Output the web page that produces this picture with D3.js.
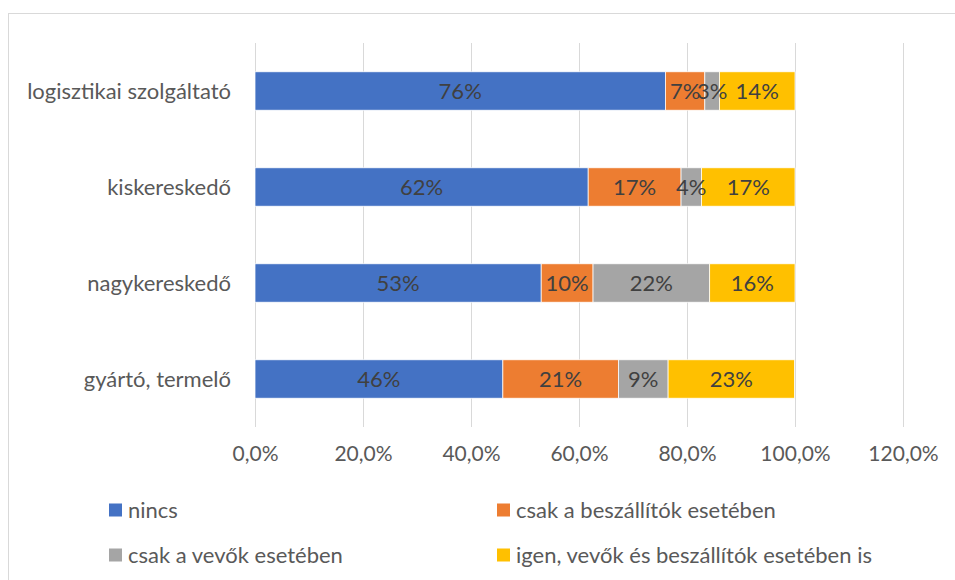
<!DOCTYPE html>
<html>
<head>
<meta charset="utf-8">
<script src="https://cdn.jsdelivr.net/npm/d3@7"></script>
<style>
  html, body { margin: 0; padding: 0; background: #fff; }
  svg { display: block; }
  text { font-family: Lato, "Open Sans", sans-serif; }
</style>
</head>
<body>
<svg id="chart" width="955" height="580"></svg>
<script>
// Respondent categories, top to bottom
const categories = ["logisztikai szolgáltató", "kiskereskedő", "nagykereskedő", "gyártó, termelő"];

// Series names (legend order) and colours
const seriesNames = ["nincs", "csak a beszállítók esetében", "csak a vevők esetében", "igen, vevők és beszállítók esetében is"];
const seriesColors = ["#4472C4", "#ED7D31", "#A5A5A5", "#FFC000"];

// Shares per category, in percent, one array per series
const nincs      = [76.0, 61.7, 53.0, 45.9];
const beszallito = [7.3, 17.2, 9.6, 21.4];
const vevo       = [2.7, 3.8, 21.6, 9.2];
const mindketto  = [14.0, 17.3, 15.8, 23.4];

// Axis tick values
const tickValues = [0, 0.2, 0.4, 0.6, 0.8, 1.0, 1.2];

const seriesValues = [nincs, beszallito, vevo, mindketto];

const rows = categories.map((c, i) => {
  const r = { category: c };
  seriesNames.forEach((s, j) => { r[s] = seriesValues[j][i] / 100; });
  return r;
});

const svg = d3.select("#chart");

// Chart frame
svg.append("rect")
  .attr("x", 8.5).attr("y", 13.5)
  .attr("width", 960).attr("height", 600)
  .attr("fill", "none").attr("stroke", "#d9d9d9").attr("stroke-width", 1);

const x = d3.scaleLinear().domain([0, 1.2]).range([255, 903]);
const y = d3.scaleBand().domain(categories).range([43, 427])
  .paddingInner(0.6).paddingOuter(0.3);

const huLocale = d3.formatLocale({ decimal: ",", thousands: " ", grouping: [3], currency: ["", " Ft"] });
const tickFmt = huLocale.format(".1%");
const labelFmt = huLocale.format(".0%");

// Vertical gridlines
svg.append("g").selectAll("line")
  .data(tickValues)
  .join("line")
  .attr("x1", d => Math.round(x(d)) + 0.5).attr("x2", d => Math.round(x(d)) + 0.5)
  .attr("y1", 43).attr("y2", 427)
  .attr("stroke", "#d9d9d9").attr("stroke-width", 1);

// Bottom axis labels
const xAxis = d3.axisBottom(x).tickValues(tickValues).tickFormat(tickFmt).tickSize(0).tickPadding(0);
const gx = svg.append("g").attr("transform", "translate(0,446)").call(xAxis);
gx.select(".domain").remove();
gx.selectAll("text")
  .attr("fill", "#595959")
  .style("font-size", "21px")
  .style("font-family", "Lato, 'Open Sans', sans-serif");

// Category labels
const yAxis = d3.axisLeft(y).tickSize(0).tickPadding(0);
const gy = svg.append("g").attr("transform", "translate(231,0)").call(yAxis);
gy.select(".domain").remove();
gy.selectAll("text")
  .attr("fill", "#595959")
  .attr("dy", "0.35em")
  .style("font-size", "22px")
  .style("font-family", "Lato, 'Open Sans', sans-serif");

// Stacked bars
const stack = d3.stack().keys(seriesNames);
const layers = stack(rows);
const color = d3.scaleOrdinal().domain(seriesNames).range(seriesColors);

const layerG = svg.append("g").selectAll("g")
  .data(layers)
  .join("g")
  .attr("fill", d => color(d.key));

layerG.selectAll("rect")
  .data(d => d)
  .join("rect")
  .attr("x", d => x(d[0]))
  .attr("y", d => y(d.data.category))
  .attr("width", d => x(d[1]) - x(d[0]))
  .attr("height", y.bandwidth())
  .attr("stroke", "#ffffff")
  .attr("stroke-width", 0.75);

// Data labels centred in each segment
const labelG = svg.append("g").selectAll("g")
  .data(layers)
  .join("g");

labelG.selectAll("text")
  .data(d => d)
  .join("text")
  .attr("x", d => (x(d[0]) + x(d[1])) / 2)
  .attr("y", d => y(d.data.category) + y.bandwidth() / 2)
  .attr("dy", "0.35em")
  .attr("text-anchor", "middle")
  .attr("fill", "#404040")
  .style("font-size", "22px")
  .text(d => labelFmt(d[1] - d[0]));

// Legend, two columns by two rows
const legendPos = [[109, 510], [497, 510], [109, 555], [497, 555]];
const legend = svg.append("g").selectAll("g")
  .data(seriesNames)
  .join("g")
  .attr("transform", (d, i) => `translate(${legendPos[i][0]},${legendPos[i][1]})`);

legend.append("rect")
  .attr("x", 0).attr("y", -6.5)
  .attr("width", 13).attr("height", 13)
  .attr("fill", d => color(d));

legend.append("text")
  .attr("x", 19).attr("y", 0)
  .attr("dy", "0.35em")
  .attr("fill", "#595959")
  .style("font-size", "22px")
  .text(d => d);
</script>
</body>
</html>
